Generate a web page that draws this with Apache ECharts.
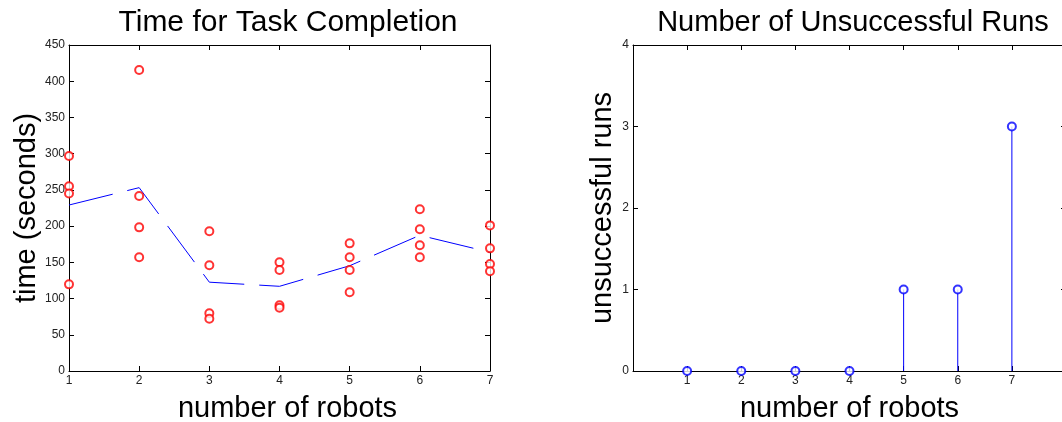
<!DOCTYPE html>
<html>
<head>
<meta charset="utf-8">
<script src="https://cdn.jsdelivr.net/npm/echarts@6/dist/echarts.min.js"></script>
<style>
  html, body { margin: 0; padding: 0; background: #fff; }
  #chart_main { width: 1062px; height: 422px; }
</style>
</head>
<body>
<div id="chart_main"></div>
<script>
// number of robots
var robots = [1, 2, 3, 4, 5, 6, 7];
// completion times (seconds), four runs per robot count
var times1 = [296.8, 255, 245, 119.6];
var times2 = [415.5, 241.6, 198.3, 157];
var times3 = [192.8, 145.9, 79.6, 72.2];
var times4 = [150, 139.4, 90.6, 87.4];
var times5 = [176.2, 157, 139.4, 108.6];
var times6 = [223.2, 195.6, 173.5, 157];
var times7 = [201, 169.3, 147.7, 137.6];
// mean line
var meanTimes = [229.1, 253.1, 122.6, 116.9, 145.3, 187.3, 163.9];
// unsuccessful runs
var failures = [0, 0, 0, 0, 1, 1, 3];

var FONT = 'Liberation Sans, Arial, sans-serif';

var allTimes = [times1, times2, times3, times4, times5, times6, times7];
var scatterData = [];
for (var i = 0; i < robots.length; i++) {
    for (var j = 0; j < allTimes[i].length; j++) {
        scatterData.push([robots[i], allTimes[i][j]]);
    }
}
var meanData = robots.map(function (r, i) { return [r, meanTimes[i]]; });
var stemData = robots.map(function (r, i) { return [r, failures[i]]; });

function boxAxis(extra) {
    var base = {
        type: 'value',
        axisLine: { show: true, onZero: false, lineStyle: { color: '#000', width: 1 } },
        axisTick: { show: true, inside: true, length: 5, lineStyle: { color: '#000' } },
        axisLabel: { show: true, color: '#222', fontSize: 12, fontFamily: FONT, margin: 4 },
        splitLine: { show: false },
        nameTextStyle: { color: '#000', fontSize: 29, fontFamily: FONT }
    };
    for (var k in extra) base[k] = extra[k];
    return base;
}

var myChart = echarts.init(document.getElementById('chart_main'));
var option = {
    animation: false,
    backgroundColor: '#fff',
    title: [
        {
            text: 'Time for Task Completion',
            left: 283, top: 3, textAlign: 'center',
            textStyle: { fontSize: 30, fontWeight: 'normal', color: '#000', fontFamily: FONT }
        },
        {
            text: 'Number of Unsuccessful Runs',
            left: 848, top: 3, textAlign: 'center',
            textStyle: { fontSize: 29, fontWeight: 'normal', color: '#000', fontFamily: FONT }
        }
    ],
    grid: [
        { left: 69, top: 45, width: 421, height: 326, containLabel: false, outerBoundsMode: 'none' },
        { left: 633, top: 45, width: 433, height: 326, containLabel: false, outerBoundsMode: 'none' }
    ],
    xAxis: [
        boxAxis({ gridIndex: 0, min: 1, max: 7, interval: 1, position: 'bottom',
            name: 'number of robots', nameLocation: 'middle', nameGap: 23,
            nameTextStyle: { color: '#000', fontSize: 29, fontFamily: FONT, padding: [0, 0, 0, 16] } }),
        boxAxis({ gridIndex: 0, min: 1, max: 7, interval: 1, position: 'top',
            axisLabel: { show: false } }),
        boxAxis({ gridIndex: 1, min: 0, max: 8, interval: 1, position: 'bottom',
            name: 'number of robots', nameLocation: 'middle', nameGap: 23,
            axisLabel: { show: true, color: '#222', fontSize: 12, fontFamily: FONT, margin: 4,
                formatter: function (v) { return (v === 0 || v === 8) ? '' : v; } } }),
        boxAxis({ gridIndex: 1, min: 0, max: 8, interval: 1, position: 'top',
            axisLabel: { show: false } })
    ],
    yAxis: [
        boxAxis({ gridIndex: 0, min: 0, max: 450, interval: 50, position: 'left',
            name: 'time (seconds)', nameLocation: 'middle', nameGap: 27 }),
        boxAxis({ gridIndex: 0, min: 0, max: 450, interval: 50, position: 'right',
            axisLabel: { show: false } }),
        boxAxis({ gridIndex: 1, min: 0, max: 4, interval: 1, position: 'left',
            name: 'unsuccessful runs', nameLocation: 'middle', nameGap: 16 }),
        boxAxis({ gridIndex: 1, min: 0, max: 4, interval: 1, position: 'right',
            axisLabel: { show: false } })
    ],
    series: [
        {
            type: 'line',
            xAxisIndex: 0, yAxisIndex: 0,
            data: meanData,
            symbol: 'none',
            lineStyle: { color: '#0000ff', width: 1, type: [45, 15] },
            z: 2
        },
        {
            type: 'scatter',
            xAxisIndex: 0, yAxisIndex: 0,
            data: scatterData,
            symbol: 'emptyCircle',
            symbolSize: 8,
            itemStyle: { color: '#ff0000', borderWidth: 1 },
            z: 3
        },
        {
            type: 'bar',
            xAxisIndex: 2, yAxisIndex: 2,
            data: stemData,
            barWidth: 1,
            itemStyle: { color: '#0000ff' },
            z: 2
        },
        {
            type: 'scatter',
            xAxisIndex: 2, yAxisIndex: 2,
            data: stemData,
            symbol: 'emptyCircle',
            symbolSize: 8,
            itemStyle: { color: '#0000ff', borderWidth: 1 },
            z: 3
        }
    ]
};
myChart.setOption(option);
</script>
</body>
</html>
